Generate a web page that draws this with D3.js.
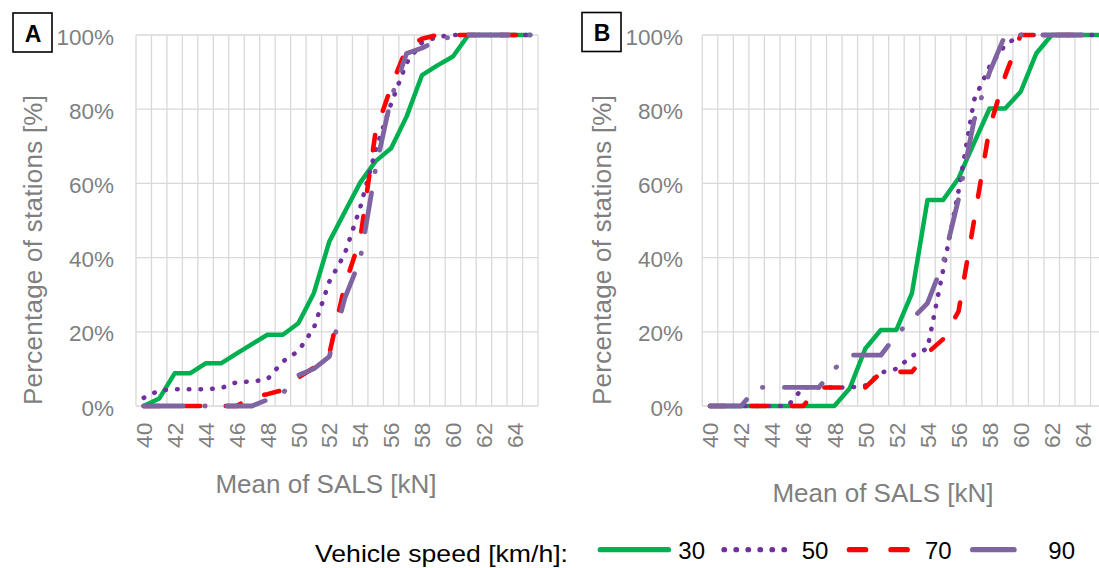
<!DOCTYPE html>
<html>
<head>
<meta charset="utf-8">
<script src="https://cdn.jsdelivr.net/npm/d3@7"></script>
<style>
  html, body { margin: 0; padding: 0; background: #fff; }
  svg { display: block; }
</style>
</head>
<body>
<svg id="chart" width="1099" height="568"></svg>
<script>
// ---------- data ----------
const categories = [40,41,42,43,44,45,46,47,48,49,50,51,52,53,54,55,56,57,58,59,60,61,62,63,64,65];
const xTickLabels = [40,42,44,46,48,50,52,54,56,58,60,62,64];
const yTickValues = [0,20,40,60,80,100];
const speeds = ["30","50","70","90"];

// Panel A (percentage of stations, cumulative)
const a30 = [0,2,8.8,8.8,11.5,11.5,14.1,16.7,19.2,19.2,22.3,30.4,44.3,52.3,60.2,66,69.5,78,89.2,91.8,94.2,100,100,100,100,100];
const a50 = [2.2,4.2,4.5,4.5,4.5,4.8,6.4,6.6,7.2,12,14.8,21,33.5,41,53.5,69,81.5,92.5,98,99.5,100,100,100,100,100,100];
const a70 = [0,0,0,0,0,0,0,2.3,3.2,4.3,7.7,10.3,14,32.5,45,74,86,96.5,99,100,100,100,100,100,100,100];
const a90 = [0,0,0,0,0,0,0,0,1.7,3.5,8.3,10,13.3,29,39.5,64,83,95,96.5,98.5,99.7,100,100,100,100,100];

// Panel B
const b30 = [0,0,0,0,0,0,0,0,0,4.8,15.5,20.5,20.5,30.4,55.5,55.5,61.4,70.9,80.2,80.2,84.7,95,100,100,100,100];
const b50 = [0,0,0,0,0,0,5,5,5,5,5.5,9,10,13.5,15.5,36.5,58,82.5,91.5,97.3,100,100,100,100,100,100];
const b70 = [0,0,0,0,0,0,0,5,5,5,5,9,9.2,9.2,14.3,18,25.5,50,75,89,100,100,100,100,100,100];
const b90 = [0,0,0,5,5,5,5,5,10,13.7,13.7,13.7,19.2,23.4,27.7,38.5,55.8,77,90,100,100,100,100,100,100,100];

// ---------- styles ----------
const seriesStyle = {
  "30": { color: "#00B050", dash: null, cap: "round", width: 4.5 },
  "50": { color: "#7030A0", dash: "0.5 11.2", cap: "round", width: 4.6 },
  "70": { color: "#FF0000", dash: "15.5 25.5", cap: "round", width: 4.6 },
  "90": { color: "#8064A2", dash: "39.5 21.5 0.5 21.5", cap: "round", width: 4.8 }
};
const axisGray = "#7f7f7f";
const gridGray = "#d9d9d9";
const fontFam = "'Liberation Sans', Arial, Helvetica, sans-serif";

const svg = d3.select("#chart");

const panels = [
  { label: "A", left: 136, right: 538, series: [a30, a50, a70, a90],
    yTickEnd: 114, yTitleX: 41.5, xTitleX: 326, xTitleY: 492.7, box: [13, 13] },
  { label: "B", left: 702.3, right: 702.3 + 26 * 15.53, series: [b30, b50, b70, b90],
    yTickEnd: 683, yTitleX: 610.5, xTitleX: 883, xTitleY: 501.7, box: [582, 12.5] }
];

const plotTop = 35, plotBottom = 406;

panels.forEach(p => {
  const g = svg.append("g");
  const x = d3.scaleBand().domain(categories).range([p.left, p.right]).paddingInner(0).paddingOuter(0);
  const y = d3.scaleLinear().domain([0, 100]).range([plotBottom, plotTop]);
  const bw = x.bandwidth();

  // vertical gridlines at band boundaries
  const bounds = categories.map(c => x(c)).concat([p.right]);
  g.append("g").selectAll("line").data(bounds).join("line")
    .attr("x1", d => d).attr("x2", d => d)
    .attr("y1", plotTop).attr("y2", plotBottom)
    .attr("stroke", gridGray).attr("stroke-width", 1.3);

  // horizontal gridlines
  g.append("g").selectAll("line").data(yTickValues).join("line")
    .attr("x1", p.left).attr("x2", p.right)
    .attr("y1", d => y(d)).attr("y2", d => y(d))
    .attr("stroke", gridGray).attr("stroke-width", 1.3);

  // y axis (labels only)
  const yAxis = g.append("g")
    .attr("transform", `translate(${p.left},0)`)
    .call(d3.axisLeft(y).tickValues(yTickValues).tickFormat(d => d + "%")
      .tickSize(0).tickPadding(p.left - p.yTickEnd));
  yAxis.select(".domain").remove();
  yAxis.selectAll("text")
    .attr("fill", axisGray).attr("font-size", 22.5).attr("font-family", fontFam)
    .attr("dy", "0.4em");

  // x axis (labels only, rotated)
  const xAxis = g.append("g")
    .attr("transform", `translate(0,${plotBottom})`)
    .call(d3.axisBottom(x).tickValues(xTickLabels).tickSize(0));
  xAxis.select(".domain").remove();
  xAxis.selectAll("text")
    .attr("fill", axisGray).attr("font-size", 22.8).attr("font-family", fontFam)
    .attr("transform", "rotate(-90)")
    .attr("text-anchor", "end")
    .attr("x", -16.7).attr("y", 0).attr("dy", "0.36em");

  // axis titles
  g.append("text")
    .attr("transform", `translate(${p.yTitleX},250) rotate(-90)`)
    .attr("text-anchor", "middle")
    .attr("fill", axisGray).attr("font-size", 26).attr("font-family", fontFam)
    .attr("textLength", 310).attr("lengthAdjust", "spacing")
    .text("Percentage of stations [%]");
  g.append("text")
    .attr("x", p.xTitleX).attr("y", p.xTitleY)
    .attr("text-anchor", "middle")
    .attr("fill", axisGray).attr("font-size", 26).attr("font-family", fontFam)
    .text("Mean of SALS [kN]");

  // lines
  const line = d3.line()
    .x((d, i) => x(categories[i]) + bw / 2)
    .y(d => y(d));
  p.series.forEach((vals, si) => {
    const st = seriesStyle[speeds[si]];
    g.append("path")
      .datum(vals)
      .attr("d", line)
      .attr("fill", "none")
      .attr("stroke", st.color)
      .attr("stroke-width", st.width)
      .attr("stroke-linecap", st.cap)
      .attr("stroke-linejoin", "round")
      .attr("stroke-dasharray", st.dash);
  });

  // panel label box
  g.append("rect")
    .attr("x", p.box[0]).attr("y", p.box[1]).attr("width", 39).attr("height", 39)
    .attr("fill", "#fff").attr("stroke", "#000").attr("stroke-width", 1.6);
  g.append("text")
    .attr("x", p.box[0] + 20).attr("y", p.box[1] + 28.5)
    .attr("text-anchor", "middle")
    .attr("font-size", 23).attr("font-weight", "bold").attr("font-family", fontFam)
    .attr("fill", "#000")
    .text(p.label);
});

// ---------- legend ----------
const legendY = 549.7;
const legend = svg.append("g");
legend.append("text")
  .attr("x", 315).attr("y", 562.3)
  .attr("font-size", 24.5).attr("font-family", fontFam).attr("fill", "#000")
  .attr("textLength", 253).attr("lengthAdjust", "spacingAndGlyphs")
  .text("Vehicle speed [km/h]:");

const legendItems = [
  { key: "30", x1: 600.3, x2: 668.4, dash: null, tx: 678.3 },
  { key: "50", x1: 724, x2: 784.6, dash: "0.5 11.5", tx: 801.7 },
  { key: "70", x1: 849.35, x2: 908, dash: "16.3 25.3", tx: 925 },
  { key: "90", x1: 972.65, x2: 1014.05, dash: null, tx: 1048.3 }
];
legendItems.forEach(it => {
  const st = seriesStyle[it.key];
  legend.append("line")
    .attr("x1", it.x1).attr("x2", it.x2).attr("y1", legendY).attr("y2", legendY)
    .attr("stroke", st.color).attr("stroke-width", 5.3)
    .attr("stroke-linecap", "round")
    .attr("stroke-dasharray", it.dash);
  legend.append("text")
    .attr("x", it.tx).attr("y", 559)
    .attr("font-size", 24).attr("font-family", fontFam).attr("fill", "#000")
    .text(it.key);
});
</script>
</body>
</html>
